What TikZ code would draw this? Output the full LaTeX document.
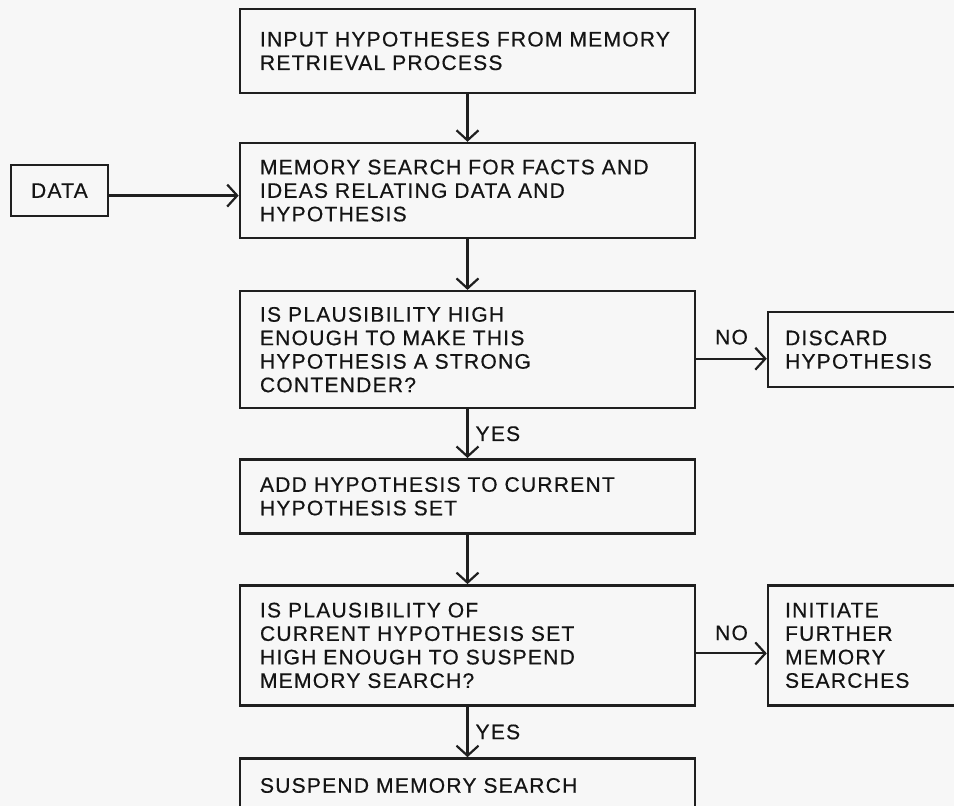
\documentclass[tikz,border=0pt]{standalone}
\usepackage{fontspec}
\setmainfont{Liberation Sans}[LetterSpace=6,WordSpace=1.8,FakeBold=0.5]
\usetikzlibrary{positioning}
\usetikzlibrary{arrows.meta}
\hyphenpenalty=10000

\begin{document}
\begin{tikzpicture}[x=1pt,y=1pt,node distance=50pt and 70.5pt,
    every node/.style={font=\fontsize{21}{23.5}\selectfont,text=black!92},
    stepbox/.style={draw=black!88,line width=2.6pt,text width=415pt,inner xsep=20pt,inner ysep=0pt,align=left},
    sidebox/.style={draw=black!88,line width=2.6pt,text width=195pt,inner xsep=17pt,inner ysep=0pt,align=left},
    flow/.style={draw=black!88,line width=2.2pt,-{Straight Barb[length=10pt,width=22pt]}},
    answer/.style={inner sep=0pt}]
\useasboundingbox (0,0) rectangle (954,806);
\fill[black!3] (0,0) rectangle (954,806);
\clip (0,0) rectangle (954,806);
\node[stepbox,minimum height=84pt] (input) at (467.5,755) {INPUT HYPOTHESES FROM MEMORY\\RETRIEVAL PROCESS};
\node[stepbox,minimum height=95pt,below=47.5pt of input] (search) {MEMORY SEARCH FOR FACTS AND\\IDEAS RELATING DATA AND\\HYPOTHESIS};
\node[stepbox,minimum height=117pt,below=50.5pt of search] (strong) {IS PLAUSIBILITY HIGH\\ENOUGH TO MAKE THIS\\HYPOTHESIS A STRONG\\CONTENDER?};
\node[stepbox,minimum height=74pt,below=48.5pt of strong] (add) {ADD HYPOTHESIS TO CURRENT\\HYPOTHESIS SET};
\node[stepbox,minimum height=120pt,below=49.5pt of add] (enough) {IS PLAUSIBILITY OF\\CURRENT HYPOTHESIS SET\\HIGH ENOUGH TO SUSPEND\\MEMORY SEARCH?};
\node[stepbox,minimum height=54pt,below=50.5pt of enough] (suspend) {SUSPEND MEMORY SEARCH};
\node[draw=black!88,line width=2.6pt,minimum width=97pt,minimum height=51pt,left=129.5pt of search] (data) {DATA};
\node[sidebox,minimum height=75pt,right=of strong] (discard) {DISCARD\\HYPOTHESIS};
\node[sidebox,minimum height=120pt,right=of enough] (initiate) {INITIATE\\FURTHER\\MEMORY\\SEARCHES};
\draw[flow] (input) -- (search);
\draw[flow] ([yshift=-5pt]data.east) -- ([yshift=-5pt]search.west);
\draw[flow] (search) -- (strong);
\draw[flow] ([yshift=-9pt]strong.east) -- node[answer,above=13pt]{NO} ([yshift=-9pt]discard.west);
\draw[flow] (strong) -- node[answer,right=7pt]{YES} (add);
\draw[flow] (add) -- (enough);
\draw[flow] ([yshift=-8pt]enough.east) -- node[answer,above=12pt]{NO} ([yshift=-8pt]initiate.west);
\draw[flow] (enough) -- node[answer,right=7pt]{YES} (suspend);
\end{tikzpicture}
\end{document}
